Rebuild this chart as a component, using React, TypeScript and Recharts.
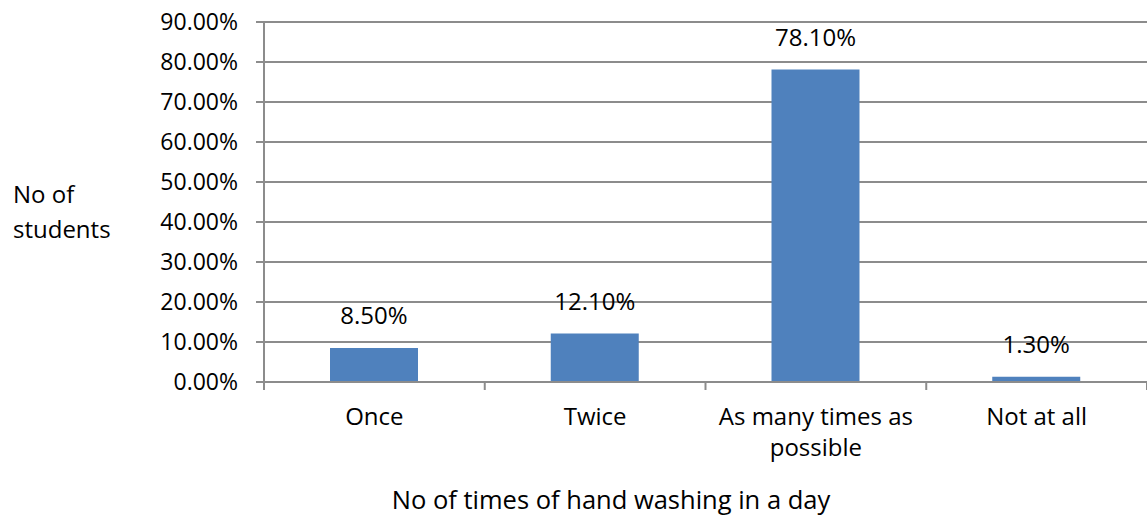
import { BarChart, Bar, XAxis, YAxis, CartesianGrid, LabelList } from "recharts";

const categories = ["Once", "Twice", "As many times as possible", "Not at all"];
const shares = [8.5, 12.1, 78.1, 1.3];
const yTicks = [0, 10, 20, 30, 40, 50, 60, 70, 80, 90];

const FONT = "'Open Sans', sans-serif";
const GRID = "#8c8c8c";

const data = categories.map((name, i) => ({ name, value: shares[i] }));

const wrap = (text: string, max: number) => {
  const lines: string[] = [];
  let cur = "";
  text.split(" ").forEach((w) => {
    const next = cur ? cur + " " + w : w;
    if (next.length > max && cur) {
      lines.push(cur);
      cur = w;
    } else {
      cur = next;
    }
  });
  if (cur) lines.push(cur);
  return lines;
};

const CategoryTick = (props: any) => {
  const { x, y, payload, index, width, visibleTicksCount } = props;
  const band = width / (visibleTicksCount || categories.length);
  const lines = wrap(String(payload.value), 17);
  return (
    <g>
      <line x1={x - band / 2} x2={x - band / 2} y1={y} y2={y + 8} stroke={GRID} strokeWidth={2} />
      {index === categories.length - 1 && (
        <line x1={x + band / 2} x2={x + band / 2} y1={y} y2={y + 8} stroke={GRID} strokeWidth={2} />
      )}
      <text x={x} y={y + 43} textAnchor="middle" fill="#000" fontSize={24} fontFamily={FONT}>
        {lines.map((l, i) => (
          <tspan key={i} x={x} dy={i === 0 ? 0 : 31}>
            {l}
          </tspan>
        ))}
      </text>
    </g>
  );
};

const XTitle = () => (
  <text x={611} y={509} textAnchor="middle" fill="#000" fontSize={25.5} fontFamily={FONT}>
    No of times of hand washing in a day
  </text>
);

const YTitle = () => (
  <text x={13} y={203} textAnchor="start" fill="#000" fontSize={24} fontFamily={FONT}>
    <tspan x={13}>No of</tspan>
    <tspan x={13} dy={35}>students</tspan>
  </text>
);

export default function App() {
  return (
    <div style={{ position: "absolute", left: 0, top: 0, background: "#fff" }}>
      <BarChart
        width={1147}
        height={518}
        data={data}
        margin={{ top: 22, right: 0, left: 0, bottom: 0 }}
      >
        <CartesianGrid vertical={false} stroke={GRID} strokeWidth={2} />
        <XAxis
          dataKey="name"
          height={136}
          tickSize={0}
          tickMargin={0}
          tickLine={false}
          axisLine={{ stroke: GRID, strokeWidth: 2 }}
          tick={<CategoryTick />}
          interval={0}
          label={<XTitle />}
        />
        <YAxis
          width={264}
          domain={[0, 90]}
          ticks={yTicks}
          interval={0}
          tickSize={8}
          tickMargin={18}
          tickLine={{ stroke: GRID, strokeWidth: 2 }}
          axisLine={{ stroke: GRID, strokeWidth: 2 }}
          tick={{ fill: "#000", fontSize: 23, fontFamily: FONT }}
          tickFormatter={(v: number) => `${v.toFixed(2)}%`}
          label={<YTitle />}
        />
        <Bar dataKey="value" fill="#4f81bd" barSize={88} isAnimationActive={false}>
          <LabelList
            dataKey="value"
            position="top"
            offset={24}
            fill="#000"
            fontSize={24}
            fontFamily={FONT}
            formatter={(v: any) => `${Number(v).toFixed(2)}%`}
          />
        </Bar>
      </BarChart>
    </div>
  );
}
